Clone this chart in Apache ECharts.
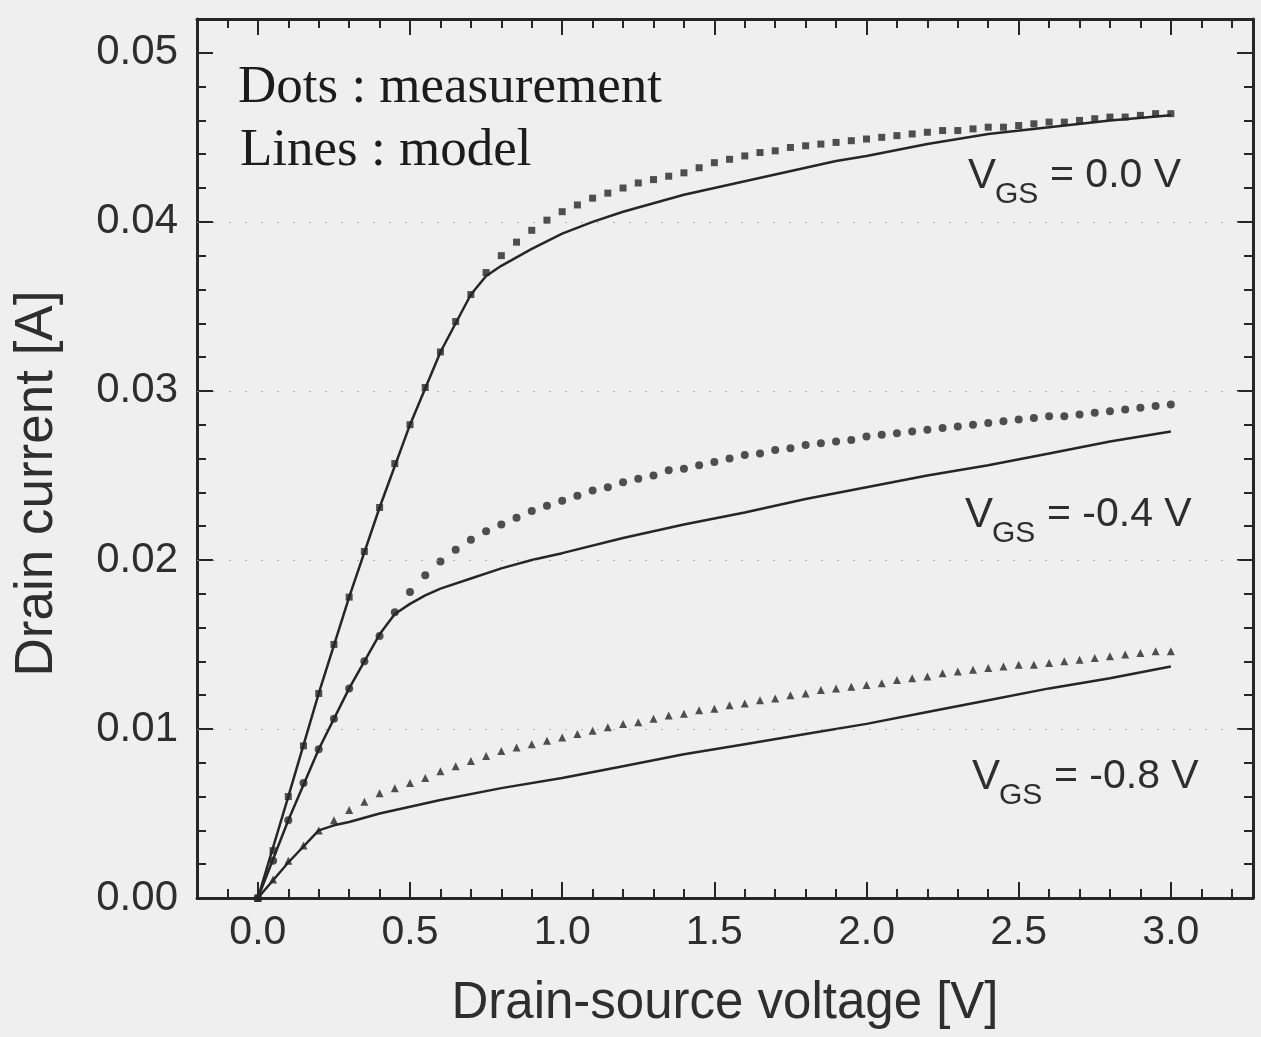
<!DOCTYPE html>
<html>
<head>
<meta charset="utf-8">
<script src="https://cdn.jsdelivr.net/npm/echarts@6/dist/echarts.min.js"></script>
<style>
html,body{margin:0;padding:0;background:#efefef;}
#chart{width:1261px;height:1037px;}
</style>
</head>
<body>
<div id="chart"></div>
<script>
// Measurement voltages (V)
var vMeas = [0.00,0.05,0.10,0.15,0.20,0.25,0.30,0.35,0.40,0.45,0.50,0.55,0.60,0.65,0.70,0.75,0.80,0.85,0.90,0.95,
  1.00,1.05,1.10,1.15,1.20,1.25,1.30,1.35,1.40,1.45,1.50,1.55,1.60,1.65,1.70,1.75,1.80,1.85,1.90,1.95,
  2.00,2.05,2.10,2.15,2.20,2.25,2.30,2.35,2.40,2.45,2.50,2.55,2.60,2.65,2.70,2.75,2.80,2.85,2.90,2.95,3.00];
// Measured drain current (A), VGS = 0.0 V (squares)
var iMeas0 = [0,0.0028,0.0060,0.0090,0.0121,0.0150,0.0178,0.0205,0.0231,0.0257,0.0280,0.0302,0.0323,0.0341,0.0357,0.0370,0.0380,0.0388,0.0395,0.0401,
  0.0406,0.0410,0.0414,0.0417,0.0420,0.0423,0.0425,0.0427,0.0429,0.0432,0.0435,0.0437,0.0439,0.0441,0.0442,0.0444,0.0445,0.0446,0.0447,0.0448,
  0.0449,0.0450,0.0451,0.0452,0.0453,0.0454,0.0454,0.0455,0.0456,0.0456,0.0457,0.0458,0.0459,0.0459,0.0460,0.0461,0.0462,0.0462,0.0463,0.0464,0.0464];
// VGS = -0.4 V (circles)
var iMeas4 = [0,0.0022,0.0046,0.0068,0.0088,0.0106,0.0124,0.0140,0.0155,0.0169,0.0181,0.0191,0.0199,0.0206,0.0212,0.0217,0.0221,0.0225,0.0229,0.0232,
  0.0235,0.0238,0.0241,0.0243,0.0246,0.0248,0.0250,0.0253,0.0254,0.0256,0.0258,0.0260,0.0262,0.0263,0.0265,0.0266,0.0268,0.0269,0.0270,0.0271,
  0.0273,0.0274,0.0275,0.0276,0.0277,0.0278,0.0279,0.0280,0.0281,0.0282,0.0283,0.0284,0.0285,0.0285,0.0286,0.0287,0.0288,0.0289,0.0290,0.0291,0.0292];
// VGS = -0.8 V (triangles)
var iMeas8 = [0,0.0011,0.0022,0.0031,0.0040,0.0046,0.0052,0.0057,0.0062,0.0065,0.0068,0.0071,0.0075,0.0078,0.0081,0.0084,0.0087,0.0089,0.0091,0.0093,
  0.0095,0.0097,0.0099,0.0101,0.0103,0.0104,0.0106,0.0108,0.0109,0.0111,0.0112,0.0114,0.0115,0.0117,0.0118,0.0120,0.0121,0.0123,0.0124,0.0125,
  0.0126,0.0127,0.0129,0.0130,0.0131,0.0133,0.0134,0.0135,0.0136,0.0137,0.0138,0.0138,0.0139,0.0140,0.0141,0.0142,0.0143,0.0144,0.0145,0.0146,0.0146];

// Model curves
var vModel0 = [0,0.1,0.2,0.3,0.4,0.5,0.6,0.7,0.75,0.8,0.9,1.0,1.1,1.2,1.3,1.4,1.5,1.6,1.7,1.8,1.9,2.0,2.2,2.4,2.6,2.8,3.0];
var iModel0 = [0,0.0060,0.0121,0.0178,0.0231,0.0280,0.0323,0.0357,0.0368,0.0374,0.0384,0.0393,0.0400,0.0406,0.0411,0.0416,0.0420,0.0424,0.0428,0.0432,0.0436,0.0439,0.0446,0.0452,0.0456,0.0460,0.0463];
var vModel4 = [0,0.1,0.2,0.3,0.4,0.45,0.5,0.55,0.6,0.7,0.8,0.9,1.0,1.2,1.4,1.6,1.8,2.0,2.2,2.4,2.6,2.8,3.0];
var iModel4 = [0,0.0046,0.0088,0.0124,0.0156,0.0168,0.0174,0.0179,0.0183,0.0189,0.0195,0.0200,0.0204,0.0213,0.0221,0.0228,0.0236,0.0243,0.0250,0.0256,0.0263,0.0270,0.0276];
var vModel8 = [0,0.1,0.2,0.25,0.3,0.4,0.5,0.6,0.8,1.0,1.2,1.4,1.6,1.8,2.0,2.2,2.4,2.6,2.8,3.0];
var iModel8 = [0,0.0021,0.0040,0.0043,0.0045,0.0050,0.0054,0.0058,0.0065,0.0071,0.0078,0.0085,0.0091,0.0097,0.0103,0.0110,0.0117,0.0124,0.0130,0.0137];

// Axis ticks / labels
var xMajorTicks = [0,0.5,1.0,1.5,2.0,2.5,3.0];
var yGridLines = [0.01,0.02,0.03,0.04];
var xTitle = 'Drain-source voltage [V]';
var yTitle = 'Drain current [A]';
var noteLines = ['Dots : measurement','Lines : model'];
var vgsLabels = ['0.0 V','-0.4 V','-0.8 V'];

var INK = '#262626';
var TXT = '#2e2e2e';
var XMIN = -0.2, XMAX = 3.27, YMIN = 0, YMAX = 0.052;

function pairs(xs, ys){ return xs.map(function(x,i){ return [x, ys[i]]; }); }

var chart = echarts.init(document.getElementById('chart'), null, {renderer:'canvas'});

function xAxisDef(pos, major){
  var a = {
    type:'value', position:pos, min:XMIN, max:XMAX,
    axisLine:{show:major, onZero:false, lineStyle:{color:INK, width:3}},
    splitLine:{show:false},
    axisLabel:{show:false},
    axisTick:{show:true, inside:true, length: major?16:9, lineStyle:{color:INK, width:2}}
  };
  if (major){
    a.axisTick.customValues = xMajorTicks;
    if (pos === 'bottom'){
      a.axisLabel = {show:true, customValues:xMajorTicks, margin:14,
        fontFamily:'Liberation Sans', fontSize:41, color:TXT,
        formatter:function(v){ return v.toFixed(1); }};
      a.name = xTitle; a.nameLocation='middle'; a.nameGap=80;
      a.nameTextStyle = {fontFamily:'Liberation Sans', fontSize:51, color:TXT};
    }
  } else {
    a.interval = 0.1;
  }
  return a;
}
function yAxisDef(pos, major){
  var a = {
    type:'value', position:pos, min:YMIN, max:YMAX,
    interval: major?0.01:0.002,
    axisLine:{show:major, onZero:false, lineStyle:{color:INK, width:3}},
    splitLine:{show:false},
    axisLabel:{show:false},
    axisTick:{show:true, inside:true, length: major?16:9, lineStyle:{color:INK, width:2}}
  };
  if (major && pos === 'left'){
    a.axisLabel = {show:true, showMaxLabel:false, margin:19,
      fontFamily:'Liberation Sans', fontSize:42, color:TXT,
      formatter:function(v){ return v.toFixed(2); }};
    a.name = yTitle; a.nameLocation='middle'; a.nameGap=133; a.nameRotate=90;
    a.nameTextStyle = {fontFamily:'Liberation Sans', fontSize:53, color:TXT, padding:[0,50,0,0]};
  }
  return a;
}

function vgsGroup(x, y, val){
  return {
    type:'group', x:x, y:y, children:[
      {type:'text', x:0, y:0, style:{text:'V', fontFamily:'Liberation Sans', fontSize:42, fill:TXT, verticalAlign:'middle'}},
      {type:'text', x:27, y:19, style:{text:'GS', fontFamily:'Liberation Sans', fontSize:30, fill:TXT, verticalAlign:'middle'}},
      {type:'text', x:82, y:0, style:{text:'= ' + val, fontFamily:'Liberation Sans', fontSize:41, fill:TXT, verticalAlign:'middle'}}
    ]
  };
}

var option = {
  backgroundColor:'#efefef',
  animation:false,
  grid:{left:197, right:8, top:19, bottom:139, containLabel:false},
  xAxis:[ xAxisDef('bottom',true), xAxisDef('bottom',false), xAxisDef('top',true), xAxisDef('top',false) ],
  yAxis:[ yAxisDef('left',true), yAxisDef('left',false), yAxisDef('right',true), yAxisDef('right',false) ],
  graphic:[
    {type:'text', left:238, top:62, style:{text:noteLines[0], fontFamily:'Liberation Serif', fontSize:53, fill:'#1c1c1c'}},
    {type:'text', left:240, top:125, style:{text:noteLines[1], fontFamily:'Liberation Serif', fontSize:53, fill:'#1c1c1c'}},
    vgsGroup(968, 176, vgsLabels[0]),
    vgsGroup(965, 515, vgsLabels[1]),
    vgsGroup(972, 777, vgsLabels[2])
  ],
  series:[
    {type:'line', data:[], silent:true, markLine:{symbol:'none', silent:true, label:{show:false},
      lineStyle:{type:[2,14], color:'#9a9a9a', width:1.2, opacity:0.7},
      data: yGridLines.map(function(v){ return {yAxis:v}; })}},
    {type:'line', data:pairs(vModel0,iModel0), showSymbol:false, lineStyle:{color:INK, width:2.5}, z:3},
    {type:'line', data:pairs(vModel4,iModel4), showSymbol:false, lineStyle:{color:INK, width:2.5}, z:3},
    {type:'line', data:pairs(vModel8,iModel8), showSymbol:false, lineStyle:{color:INK, width:2.5}, z:3},
    {type:'scatter', data:pairs(vMeas,iMeas0), symbol:'rect', symbolSize:7, itemStyle:{color:INK}, z:4},
    {type:'scatter', data:pairs(vMeas,iMeas4), symbol:'circle', symbolSize:8, itemStyle:{color:INK}, z:4},
    {type:'scatter', data:pairs(vMeas,iMeas8), symbol:'triangle', symbolSize:8, itemStyle:{color:INK}, z:4}
  ]
};
chart.setOption(option);
</script>
</body>
</html>
